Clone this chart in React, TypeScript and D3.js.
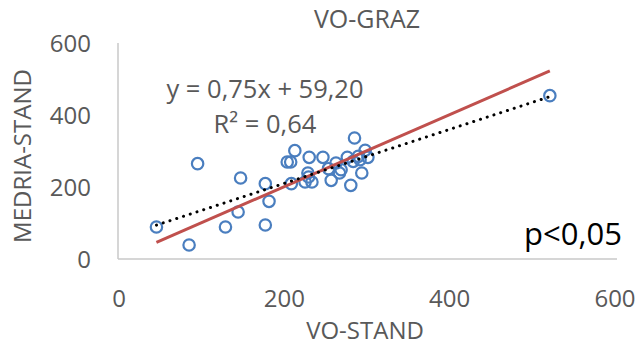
import React from "react";
import * as d3 from "d3";

const voStand = [46.5, 86, 96.3, 130, 145.3, 148.3, 178.2, 178.2, 182.7, 204.7, 208.9, 213.9, 209.7, 226.3, 229.7, 230.5, 234.6, 231.3, 247.9, 254.6, 257.9, 263.7, 267.9, 269.9, 277.4, 281.6, 286.1, 284.5, 294.9, 292.8, 299, 302.3, 290.7, 522.4];
const medriaStand = [88.9, 38.9, 264.8, 88.9, 130.6, 225, 94.4, 209.3, 160.2, 269.4, 269.4, 301, 209.3, 213.9, 238.9, 227.8, 213.9, 282.4, 282.4, 250.9, 218.5, 266.7, 238.9, 248.1, 282.4, 204.6, 336.1, 271.3, 238.9, 275.9, 301.9, 282.4, 285.2, 453.7];
const xTicks = [0, 200, 400, 600];
const yTicks = [0, 200, 400, 600];
const trendSlope = 0.75;
const trendIntercept = 59.2;
const equationText = "y = 0,75x + 59,20";
const r2Text = "R² = 0,64";
const pText = "p<0,05";
const chartTitle = "VO-GRAZ";
const xTitle = "VO-STAND";
const yTitle = "MEDRIA-STAND";

const W = 641;
const H = 355;
const FONT = "'Open Sans', sans-serif";
const GRAY = "#595959";

export default function App() {
  const x = d3.scaleLinear().domain([0, 600]).range([118, 614]);
  const y = d3.scaleLinear().domain([0, 600]).range([259, 43]);
  const pts = voStand.map((v, i) => [v, medriaStand[i]] as [number, number]);
  const xMin = d3.min(voStand) as number;
  const xMax = d3.max(voStand) as number;
  const line = d3.line<[number, number]>().x((d) => x(d[0])).y((d) => y(d[1]));
  const idLine = line([[xMin, xMin], [xMax, xMax]]) || "";
  const trend = line([
    [xMin, trendSlope * xMin + trendIntercept],
    [xMax, trendSlope * xMax + trendIntercept],
  ]) || "";

  return (
    <svg width={W} height={H} style={{ position: "absolute", left: 0, top: 0, background: "#fff" }}>
      <rect width={W} height={H} fill="#fff" />
      <text x={367} y={28} textAnchor="middle" fontFamily={FONT} fontSize={25} fill={GRAY}>{chartTitle}</text>
      <line x1={x(0)} x2={x(0)} y1={y(0)} y2={y(600)} stroke="#c8c8c8" strokeWidth={1.5} />
      <line x1={x(0)} x2={x(600) + 3} y1={y(0)} y2={y(0)} stroke="#c8c8c8" strokeWidth={1.5} />
      {yTicks.map((t) => (
        <text key={"y" + t} x={91} y={y(t) + 9} textAnchor="end" fontFamily={FONT} fontSize={24} fill={GRAY}>{t}</text>
      ))}
      {xTicks.map((t) => (
        <text key={"x" + t} x={x(t) + 1} y={307} textAnchor="middle" fontFamily={FONT} fontSize={24} fill={GRAY}>{t}</text>
      ))}
      <text x={365} y={339} textAnchor="middle" fontFamily={FONT} fontSize={24} fill={GRAY}>{xTitle}</text>
      <text transform={`translate(31,156) rotate(-90)`} textAnchor="middle" fontFamily={FONT} fontSize={24} fill={GRAY}>{yTitle}</text>
      {pts.map((p, i) => (
        <circle key={i} cx={x(p[0])} cy={y(p[1])} r={5.7} fill="none" stroke="#4a7ebf" strokeWidth={2.2} />
      ))}
      <path d={idLine} stroke="#c0504d" strokeWidth={3} fill="none" />
      <path d={trend} stroke="#000" strokeWidth={3} fill="none" strokeDasharray="0.1 7" strokeLinecap="round" />
      <text x={265} y={98} textAnchor="middle" fontFamily={FONT} fontSize={25.5} fill={GRAY}>{equationText}</text>
      <text x={265} y={133} textAnchor="middle" fontFamily={FONT} fontSize={25.5} fill={GRAY}>{r2Text}</text>
      <text x={622} y={245} textAnchor="end" fontFamily={FONT} fontSize={31} fill="#000">{pText}</text>
    </svg>
  );
}
